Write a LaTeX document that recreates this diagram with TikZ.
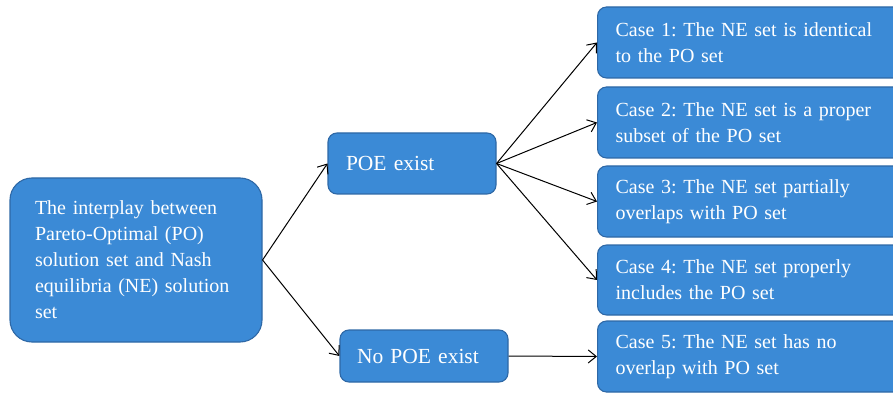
\documentclass[tikz,border=0pt]{standalone}
\usepackage{fontspec}
\setmainfont{Liberation Serif}
\usetikzlibrary{arrows.meta}
\definecolor{boxfill}{RGB}{59,138,214}
\definecolor{boxline}{RGB}{46,104,166}
\tikzset{
  box/.style={draw=boxline, fill=boxfill, rounded corners=9pt, text=white,
    font=\fontsize{20}{26}\selectfont\frenchspacing, align=left, inner xsep=18pt, inner ysep=0pt,
    line width=1.1pt},
  bigtext/.style={font=\fontsize{21.5}{26}\selectfont\frenchspacing},
  conn/.style={draw=black, line width=1pt, -{Straight Barb[length=8pt,width=13pt]}}
}
\begin{document}
\begin{tikzpicture}[x=1pt,y=-1pt]
\useasboundingbox (0,0) rectangle (893,395);
\clip (0,0) rectangle (893,395);
\node[box, rounded corners=22pt, inner xsep=25pt, text width=202pt, minimum height=164pt] (main) at (136,260)
  {The interplay between\\Pareto-Optimal (PO)\\solution set and Nash\\equilibria (NE) solution\\set};
\node[box, bigtext, text width=132pt, minimum height=61pt] (poe) at (412,163.5) {POE exist};
\node[box, bigtext, inner xsep=17pt, text width=134pt, minimum height=52pt] (nopoe) at (424,356) {No POE exist};
\node[box, anchor=west, text width=277pt, minimum height=71pt] (c1) at (597,42.5) {Case 1: The NE set is identical\\to the PO set};
\node[box, anchor=west, text width=277pt, minimum height=71pt] (c2) at (597,122.5) {Case 2: The NE set is a proper\\subset of the PO set};
\node[box, anchor=west, text width=277pt, minimum height=71pt] (c3) at (597,201.5) {Case 3: The NE set partially\\overlaps with PO set};
\node[box, anchor=west, text width=277pt, minimum height=70pt] (c4) at (597,280) {Case 4: The NE set properly\\includes the PO set};
\node[box, anchor=west, text width=277pt, minimum height=71pt] (c5) at (597,356.5) {Case 5: The NE set has no\\overlap with PO set};
\draw[conn] (main.east) -- (poe.west);
\draw[conn] (main.east) -- (nopoe.west);
\draw[conn] (poe.east) -- (c1.west);
\draw[conn] (poe.east) -- (c2.west);
\draw[conn] (poe.east) -- (c3.west);
\draw[conn] (poe.east) -- (c4.west);
\draw[conn] (nopoe.east) -- (c5.west);
\end{tikzpicture}
\end{document}
